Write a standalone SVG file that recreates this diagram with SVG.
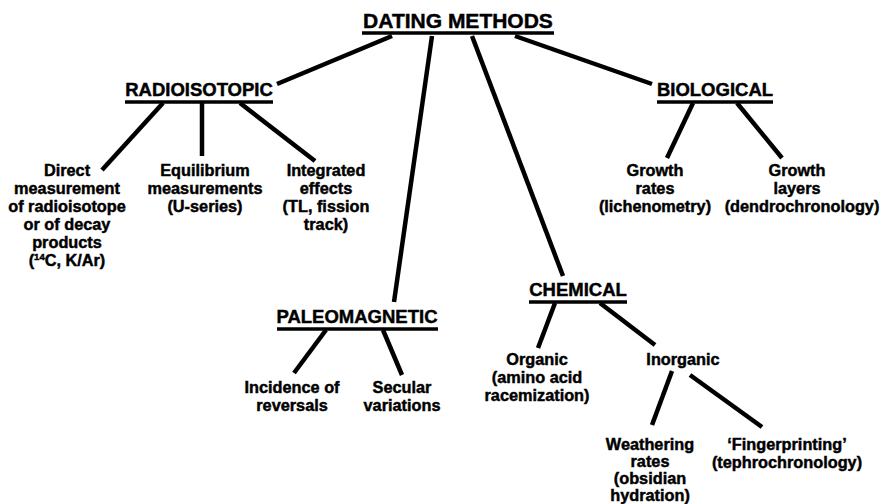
<svg xmlns="http://www.w3.org/2000/svg" width="881" height="504" viewBox="0 0 881 504">
<style>
text{font-family:"Liberation Sans",Arial,sans-serif;font-weight:bold;fill:#000;stroke:#000;stroke-width:0.45;text-anchor:middle}
.t{font-size:21px}
.h{font-size:18.5px}
.b{font-size:16.3px}
.ul{stroke:#000;stroke-width:3.5}
.c{stroke:#000;stroke-width:4.5;stroke-linecap:butt;fill:none}
</style>
<rect width="881" height="504" fill="#fff"/>
<g id="connectors">
<line class="c" x1="392" y1="36" x2="277" y2="84"/>
<line class="c" x1="432" y1="36" x2="394" y2="302"/>
<line class="c" x1="472" y1="36" x2="563" y2="276"/>
<line class="c" x1="515" y1="36" x2="652" y2="84"/>
<line class="c" x1="163" y1="103" x2="102" y2="170"/>
<line class="c" x1="202" y1="103" x2="202" y2="156"/>
<line class="c" x1="240" y1="103" x2="315" y2="161"/>
<line class="c" x1="693" y1="103" x2="667" y2="158"/>
<line class="c" x1="737" y1="103" x2="782" y2="158"/>
<line class="c" x1="326" y1="330" x2="294" y2="373"/>
<line class="c" x1="383" y1="330" x2="402" y2="375"/>
<line class="c" x1="555" y1="303" x2="538" y2="348"/>
<line class="c" x1="600" y1="303" x2="655" y2="345"/>
<line class="c" x1="672" y1="371" x2="652" y2="425"/>
<line class="c" x1="690" y1="375" x2="762" y2="427"/>
</g>
<g id="dating-methods">
<text class="t" x="458" y="28">DATING METHODS</text>
<line class="ul" x1="362" y1="33" x2="554" y2="33"/>
</g>
<g id="radioisotopic">
<text class="h" x="199" y="96">RADIOISOTOPIC</text>
<line class="ul" x1="125" y1="102" x2="273" y2="102"/>
</g>
<g id="direct">
<text class="b" x="67" y="176">Direct</text>
<text class="b" x="67" y="194">measurement</text>
<text class="b" x="67" y="212">of radioisotope</text>
<text class="b" x="67" y="230">or of decay</text>
<text class="b" x="67" y="248">products</text>
<text class="b" x="67" y="266">(<tspan font-size="9.5" dy="-6">14</tspan><tspan dy="6">C, K/Ar)</tspan></text>
</g>
<g id="equilibrium">
<text class="b" x="205" y="176">Equilibrium</text>
<text class="b" x="205" y="194">measurements</text>
<text class="b" x="205" y="212">(U-series)</text>
</g>
<g id="integrated">
<text class="b" x="326" y="176">Integrated</text>
<text class="b" x="326" y="194">effects</text>
<text class="b" x="326" y="212">(TL, fission</text>
<text class="b" x="326" y="230">track)</text>
</g>
<g id="biological">
<text class="h" x="715" y="96">BIOLOGICAL</text>
<line class="ul" x1="657" y1="102" x2="773" y2="102"/>
</g>
<g id="growth-rates">
<text class="b" x="655" y="176">Growth</text>
<text class="b" x="655" y="194">rates</text>
<text class="b" x="655" y="212">(lichenometry)</text>
</g>
<g id="growth-layers">
<text class="b" x="797" y="176">Growth</text>
<text class="b" x="797" y="194">layers</text>
<text class="b" x="802" y="212">(dendrochronology)</text>
</g>
<g id="paleomagnetic">
<text class="h" x="357" y="323">PALEOMAGNETIC</text>
<line class="ul" x1="277" y1="329" x2="438" y2="329"/>
</g>
<g id="incidence">
<text class="b" x="292" y="393">Incidence of</text>
<text class="b" x="292" y="411">reversals</text>
</g>
<g id="secular">
<text class="b" x="402" y="393">Secular</text>
<text class="b" x="402" y="411">variations</text>
</g>
<g id="chemical">
<text class="h" x="578" y="296">CHEMICAL</text>
<line class="ul" x1="529" y1="302" x2="627" y2="302"/>
</g>
<g id="organic">
<text class="b" x="537" y="365">Organic</text>
<text class="b" x="537" y="383">(amino acid</text>
<text class="b" x="537" y="401">racemization)</text>
</g>
<g id="inorganic">
<text class="b" x="683" y="365">Inorganic</text>
</g>
<g id="weathering">
<text class="b" x="650" y="450">Weathering</text>
<text class="b" x="650" y="467">rates</text>
<text class="b" x="650" y="484">(obsidian</text>
<text class="b" x="650" y="501">hydration)</text>
</g>
<g id="fingerprinting">
<text class="b" x="787" y="450">‘Fingerprinting’</text>
<text class="b" x="787" y="468">(tephrochronology)</text>
</g>
</svg>
